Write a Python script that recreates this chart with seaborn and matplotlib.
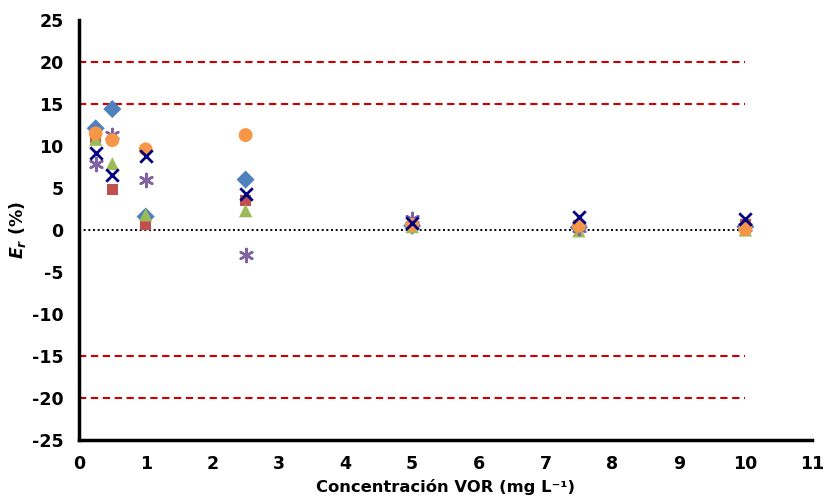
import matplotlib
matplotlib.use("Agg")
import matplotlib.pyplot as plt
import seaborn as sns
import pandas as pd

# ---- data ----
conc = [0.25, 0.5, 1.0, 2.5, 5.0, 7.5, 10.0]
s_diamond = [12.1, 14.4, 1.6, 6.0, 0.5, 0.3, 0.4]
s_square = [11.0, 4.8, 0.6, 3.5, 0.6, 0.6, 0.7]
s_triangle = [10.8, 7.9, 1.8, 2.3, 0.4, -0.1, 0.0]
s_asterisk = [7.8, 11.3, 6.0, -3.0, 1.3, 0.2, 0.3]
s_circle = [11.5, 10.7, 9.6, 11.3, 0.6, 0.5, 0.1]
s_cross = [9.2, 6.6, 8.8, 4.3, 0.8, 1.6, 1.3]

limit_levels = [20, 15, -15, -20]
zero_level = [0]
line_span = [0, 10]
x_ticks = list(range(0, 12))
y_ticks = list(range(-25, 30, 5))

series = [
    ("diamond", s_diamond, "D", "#4F81BD"),
    ("square", s_square, "s", "#C0504D"),
    ("triangle", s_triangle, "^", "#9BBB59"),
    ("asterisk", s_asterisk, (6, 2, 0), "#8064A2"),
    ("circle", s_circle, "o", "#F79646"),
    ("cross", s_cross, "x", "#000080"),
]

sns.set_theme(style="white")
plt.rcParams["font.family"] = ["DejaVu Sans"]
plt.rcParams["axes.unicode_minus"] = False
plt.rcParams["text.color"] = "black"
plt.rcParams["axes.labelcolor"] = "black"
plt.rcParams["xtick.color"] = "black"
plt.rcParams["ytick.color"] = "black"
plt.rcParams["mathtext.fontset"] = "custom"
plt.rcParams["mathtext.it"] = "DejaVu Sans:italic:bold"
plt.rcParams["mathtext.rm"] = "DejaVu Sans:bold"
plt.rcParams["mathtext.default"] = "it"

fig = plt.figure(figsize=(8.24, 4.95), dpi=100)
ax = fig.add_axes([0.0959, 0.1111, 0.8895, 0.8485])

ax.hlines(limit_levels, line_span[0], line_span[1], colors="#CC0000",
          linestyles=(0, (3.5, 2.2)), linewidth=1.5, zorder=1)
ax.hlines(zero_level, line_span[0], line_span[1], colors="black",
          linestyles=(0, (1, 1.4)), linewidth=1.4, zorder=1)

for name, vals, mk, col in series:
    df = pd.DataFrame({"x": conc, "y": vals})
    if mk == "x":
        sns.scatterplot(data=df, x="x", y="y", ax=ax, marker=mk, color=col,
                        s=80, linewidth=2.0, zorder=3, legend=False)
    elif mk == (6, 2, 0):
        sns.scatterplot(data=df, x="x", y="y", ax=ax, marker=mk, color=col,
                        s=90, linewidth=1.8, zorder=3, legend=False)
    else:
        size = {"D": 85, "s": 60, "^": 90, "o": 100}[mk]
        sns.scatterplot(data=df, x="x", y="y", ax=ax, marker=mk, color=col,
                        s=size, linewidth=0, edgecolor="none", zorder=3, legend=False)

ax.set_xlim(0, 11)
ax.set_ylim(-25, 25)
ax.set_xticks(x_ticks)
ax.set_yticks(y_ticks)
ax.tick_params(axis="both", direction="out", length=4, width=2, color="black",
               labelsize=12.5, labelcolor="black")
ax.tick_params(axis="y", pad=7)
ax.tick_params(axis="x", pad=7)
for lab in ax.get_xticklabels() + ax.get_yticklabels():
    lab.set_fontweight("bold")

for side in ["top", "right"]:
    ax.spines[side].set_visible(False)
for side in ["left", "bottom"]:
    ax.spines[side].set_color("black")
    ax.spines[side].set_linewidth(2.5)

ax.set_xlabel("Concentración VOR (mg L\u207b\u00b9)", fontsize=11.8,
              fontweight="bold", labelpad=4, color="black")
ax.set_ylabel("$E_r$ (%)", fontsize=12.5, fontweight="bold", labelpad=3, color="black")
ax.grid(False)

fig.savefig("out.png", dpi=100)
